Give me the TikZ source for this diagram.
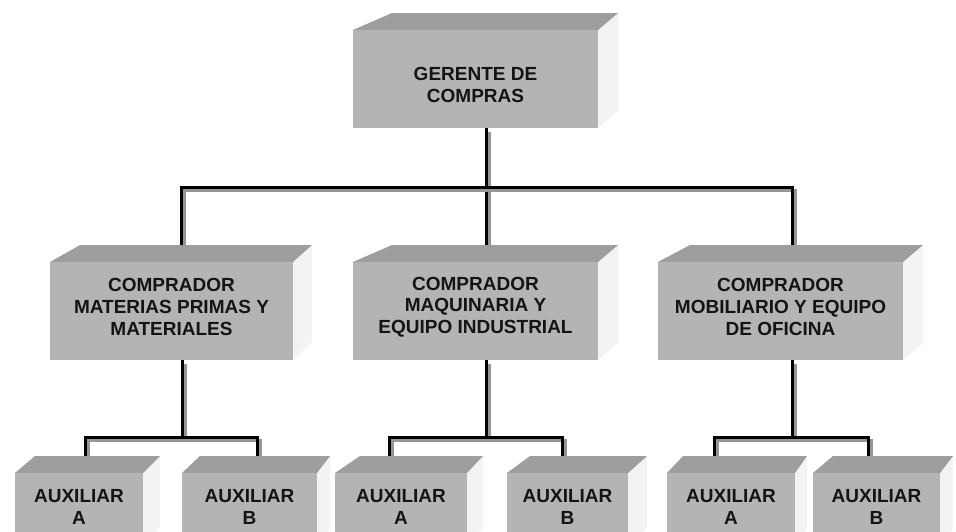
\documentclass[tikz,border=0pt]{standalone}
\usepackage{fontspec}
\setmainfont{Liberation Sans}
\usetikzlibrary{calc}
\pgfdeclarelayer{background}
\pgfsetlayers{background,main}
\definecolor{frontgray}{RGB}{180,180,180}
\definecolor{topgray}{RGB}{158,158,158}
\definecolor{sidegray}{RGB}{243,243,243}
\definecolor{shadowgray}{RGB}{150,150,150}
\tikzset{
  blocktext/.style={align=center, font=\bfseries\fontsize{19}{21.7}\selectfont, inner sep=0pt, text=black!92},
  wire/.style={line width=3pt, black, line join=miter},
  wireshadow/.style={line width=3pt, shadowgray, line join=miter, transform canvas={shift={(3.5,3.5)}}},
}
% #1 name, #2 x1, #3 x2, #4 y1, #5 y2, #6 left depth, #7 right depth, #8 text y, #9 text
\newcommand\orgblock[9]{%
  \fill[sidegray] (#3,#4) -- (#3+#7,#4-17) -- (#3+#7,#5-17) -- (#3,#5) -- cycle;
  \fill[topgray] (#2,#4) -- (#2+#6,#4-17) -- (#3+#7,#4-17) -- (#3,#4) -- cycle;
  \fill[frontgray] (#2,#4) rectangle (#3,#5);
  \node[blocktext] (#1) at ({(#2+#3)/2},#8) {#9};
}
\newcommand\orgwire[1]{\draw[wireshadow] #1; \draw[wire] #1;}
\begin{document}
\begin{tikzpicture}[x=1pt,y=-1pt]
\path[use as bounding box, clip] (0,0) rectangle (956,531);

% blocks
\orgblock{G}{353}{598}{30}{128}{39}{20}{85}{GERENTE DE\\COMPRAS}
\orgblock{C1}{50}{293}{262}{360}{30}{19}{307}{COMPRADOR\\MATERIAS PRIMAS Y\\MATERIALES}
\orgblock{C2}{353}{598}{262}{360}{39}{20}{307}{COMPRADOR\\MAQUINARIA Y\\EQUIPO INDUSTRIAL}
\orgblock{C3}{658}{903}{262}{360}{32}{20}{307}{COMPRADOR\\MOBILIARIO Y EQUIPO\\DE OFICINA}
\orgblock{A1}{15}{143}{473}{545}{20}{17}{507}{AUXILIAR\\A}
\orgblock{B1}{182}{317}{473}{545}{18}{13}{507}{AUXILIAR\\B}
\orgblock{A2}{335}{467}{473}{545}{25}{16}{507}{AUXILIAR\\A}
\orgblock{B2}{507}{628}{473}{545}{23}{19}{507}{AUXILIAR\\B}
\orgblock{A3}{667}{795}{473}{545}{16}{12}{507}{AUXILIAR\\A}
\orgblock{B3}{813}{940}{473}{545}{20}{13}{507}{AUXILIAR\\B}

% connector end points
\coordinate (Gb) at (486,128);
\coordinate (bus0) at (486,187);
\coordinate (C1t) at (181,245);
\coordinate (C2t) at (486,245);
\coordinate (C3t) at (792,245);
\coordinate (C1b) at (182,360);
\coordinate (C2b) at (486,360);
\coordinate (C3b) at (792,360);
\coordinate (bus1) at (182,437);
\coordinate (A1t) at (85,456);
\coordinate (B1t) at (257,456);
\coordinate (A2t) at (389,456);
\coordinate (B2t) at (562,456);
\coordinate (A3t) at (714,456);
\coordinate (B3t) at (868,456);

\begin{pgfonlayer}{background}
  \fill[white] (0,0) rectangle (956,531);
  \orgwire{(Gb) -- (C2t)}
  \orgwire{(C1t) -- (C1t |- bus0) -- (C3t |- bus0) -- (C3t)}
  \orgwire{(C1b) -- (C1b |- bus1)}
  \orgwire{(A1t) -- (A1t |- bus1) -- (B1t |- bus1) -- (B1t)}
  \orgwire{(C2b) -- (C2b |- bus1)}
  \orgwire{(A2t) -- (A2t |- bus1) -- (B2t |- bus1) -- (B2t)}
  \orgwire{(C3b) -- (C3b |- bus1)}
  \orgwire{(A3t) -- (A3t |- bus1) -- (B3t |- bus1) -- (B3t)}
\end{pgfonlayer}
\end{tikzpicture}
\end{document}
